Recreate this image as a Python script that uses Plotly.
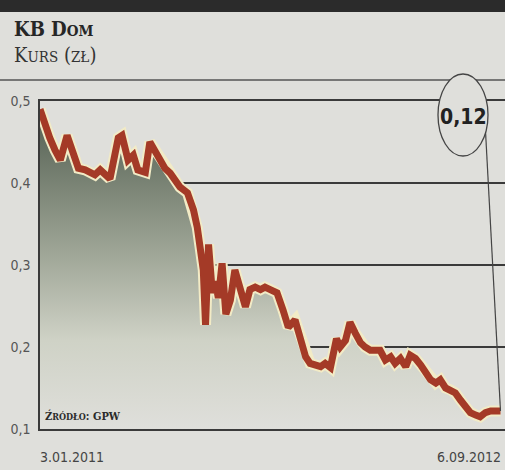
import plotly.graph_objects as go

# ---- data ----
dates = [
    "2011-01-03", "2011-01-10", "2011-01-16", "2011-01-23", "2011-01-30", "2011-02-08",
    "2011-02-15", "2011-02-23", "2011-03-04", "2011-03-17", "2011-03-24", "2011-03-30",
    "2011-04-06", "2011-04-17", "2011-04-22", "2011-04-30", "2011-05-07", "2011-05-13",
    "2011-05-23", "2011-05-29", "2011-06-05", "2011-06-12", "2011-06-18", "2011-06-25",
    "2011-07-08", "2011-07-18", "2011-07-26", "2011-07-31", "2011-08-04", "2011-08-08",
    "2011-08-11", "2011-08-15", "2011-08-20", "2011-08-24", "2011-08-28", "2011-09-02",
    "2011-09-07", "2011-09-13", "2011-09-19", "2011-09-26", "2011-10-03", "2011-10-09",
    "2011-10-16", "2011-10-23", "2011-10-29", "2011-11-05", "2011-11-14", "2011-11-22",
    "2011-11-29", "2011-12-08", "2011-12-15", "2011-12-22", "2011-12-28", "2012-01-04",
    "2012-01-11", "2012-01-17", "2012-01-24", "2012-02-01", "2012-02-06", "2012-02-13",
    "2012-02-19", "2012-02-26", "2012-03-04", "2012-03-10", "2012-03-17", "2012-03-30",
    "2012-04-06", "2012-04-13", "2012-04-19", "2012-04-26", "2012-05-03", "2012-05-09",
    "2012-05-16", "2012-05-23", "2012-05-29", "2012-06-05", "2012-06-12", "2012-06-18",
    "2012-06-25", "2012-07-01", "2012-07-08", "2012-07-15", "2012-07-21", "2012-07-28",
    "2012-08-04", "2012-08-10", "2012-08-17", "2012-08-24", "2012-09-06",
]
price = [
    0.490, 0.467, 0.455, 0.440, 0.428, 0.458,
    0.440, 0.418, 0.416, 0.410, 0.416, 0.410,
    0.405, 0.455, 0.458, 0.428, 0.434, 0.416,
    0.413, 0.450, 0.440, 0.430, 0.418, 0.412,
    0.395, 0.388, 0.367, 0.346, 0.320, 0.294,
    0.227, 0.325, 0.266, 0.280, 0.260, 0.302,
    0.240, 0.257, 0.294, 0.273, 0.249, 0.270,
    0.273, 0.270, 0.273, 0.270, 0.266, 0.245,
    0.224, 0.233, 0.212, 0.188, 0.180, 0.178,
    0.176, 0.180, 0.175, 0.210, 0.200, 0.208,
    0.230, 0.217, 0.205, 0.200, 0.196, 0.196,
    0.184, 0.188, 0.180, 0.186, 0.176, 0.190,
    0.186, 0.178, 0.168, 0.160, 0.156, 0.160,
    0.150, 0.148, 0.144, 0.135, 0.127, 0.120,
    0.117, 0.115, 0.120, 0.122, 0.122,
]
y_ticks = [0.1, 0.2, 0.3, 0.4, 0.5]
y_range = [0.1, 0.5]
x_range = ["2011-01-03", "2012-09-12"]
first_label = "3.01.2011"
last_label = "6.09.2012"
last_value_text = "0,12"

# ---- layout geometry helpers (pixels -> paper) ----
W, H = 505, 470
L, R, T, B = 40, 505, 101, 429
def px(x):
    return (x - L) / (R - L)
def py(y):
    return (B - y) / (B - T)

BG = "#dfdfdb"
RED = "#a43a27"
CREAM = "#f2ebc6"
DARK = "#3a3a3a"
NARROW = "Liberation Sans Narrow, DejaVu Sans Condensed, Roboto, sans-serif"
SLAB = "DejaVu Serif Condensed, DejaVu Serif, serif"

fig = go.Figure()
fig.add_trace(go.Scatter(
    x=dates, y=price, mode="lines", line=dict(width=0, color="rgba(0,0,0,0)"),
    fill="tozeroy",
    fillgradient=dict(type="vertical", start=0.1, stop=0.46,
                      colorscale=[[0, BG], [0.3, "#cfd2c6"], [0.6, "#9ea596"], [1, "#5f6a5c"]]),
    hoverinfo="skip", showlegend=False))
fig.add_trace(go.Scatter(x=dates, y=price, mode="lines",
                         line=dict(width=11, color=CREAM), showlegend=False, hoverinfo="skip"))
fig.add_trace(go.Scatter(x=dates, y=price, mode="lines",
                         line=dict(width=7, color=RED), showlegend=False))

shapes = [
    # top black bar
    dict(type="rect", xref="paper", yref="paper", x0=px(0), x1=px(505), y0=py(12), y1=py(0),
         fillcolor="#2b2b2b", line=dict(width=0), layer="above"),
    # separator under title
    dict(type="line", xref="paper", yref="paper", x0=px(0), x1=px(505), y0=py(80), y1=py(80),
         line=dict(color="#555555", width=1.5), layer="above"),
    # pointer line to last value
    dict(type="line", xref="x", yref="paper", x0="2012-08-17", x1=dates[-1],
         y0=py(130), y1=(price[-1] - y_range[0]) / (y_range[1] - y_range[0]),
         line=dict(color="#444444", width=1.2), layer="above"),
    # badge ellipse
    dict(type="circle", xref="paper", yref="paper", x0=px(438), x1=px(488), y0=py(156), y1=py(74),
         fillcolor=BG, line=dict(color="#444444", width=1.3), layer="above"),
]

annotations = [
    dict(xref="paper", yref="paper", x=px(12), y=py(29), xanchor="left", yanchor="middle",
         text="<b>KB D<span style='font-size:15px'>OM</span></b>", showarrow=False,
         font=dict(family=SLAB, size=20, color="#262626")),
    dict(xref="paper", yref="paper", x=px(12), y=py(55), xanchor="left", yanchor="middle",
         text="K<span style='font-size:15px'>URS</span> (<span style='font-size:15px'>ZŁ</span>)",
         showarrow=False, font=dict(family=SLAB, size=20, color="#333333")),
    dict(xref="paper", yref="paper", x=px(463), y=py(117), xanchor="center", yanchor="middle",
         text="<b>" + last_value_text + "</b>", showarrow=False,
         font=dict(family=NARROW, size=21, color="#222222")),
    dict(xref="paper", yref="paper", x=px(43), y=py(416), xanchor="left", yanchor="middle",
         text="<b>Ź<span style='font-size:9px'>RÓDŁO</span>: GPW</b>", showarrow=False,
         font=dict(family=SLAB, size=11, color="#2a2a2a")),
    dict(xref="x", yref="paper", x=dates[0], y=py(457), xanchor="left", yanchor="middle",
         text=first_label, showarrow=False, xshift=-2,
         font=dict(family=NARROW, size=14, color="#444444")),
    dict(xref="paper", yref="paper", x=px(503), y=py(457), xanchor="right", yanchor="middle",
         text=last_label, showarrow=False,
         font=dict(family=NARROW, size=14, color="#444444")),
]

fig.update_layout(
    width=W, height=H,
    margin=dict(l=L, r=W - R, t=T, b=H - B, pad=0),
    paper_bgcolor=BG, plot_bgcolor=BG,
    separators=", ",
    showlegend=False,
    shapes=shapes, annotations=annotations,
    xaxis=dict(type="date", range=x_range, showgrid=False, zeroline=False,
               showline=True, mirror=True, linecolor=DARK, linewidth=1.5,
               showticklabels=False, ticks=""),
    yaxis=dict(range=y_range, tickvals=y_ticks, tickformat=".1f",
               showgrid=True, gridcolor=DARK, gridwidth=1.5, zeroline=False,
               showline=True, linecolor=DARK, linewidth=1.5, ticks="",
               ticklabelstandoff=5,
               tickfont=dict(family=NARROW, size=14, color="#555555")),
)

fig.write_html("out.html", config={"displayModeBar": False},
               post_script="document.body.style.margin='0';document.body.style.overflow='hidden';"
                           "document.body.style.background='" + BG + "';")
